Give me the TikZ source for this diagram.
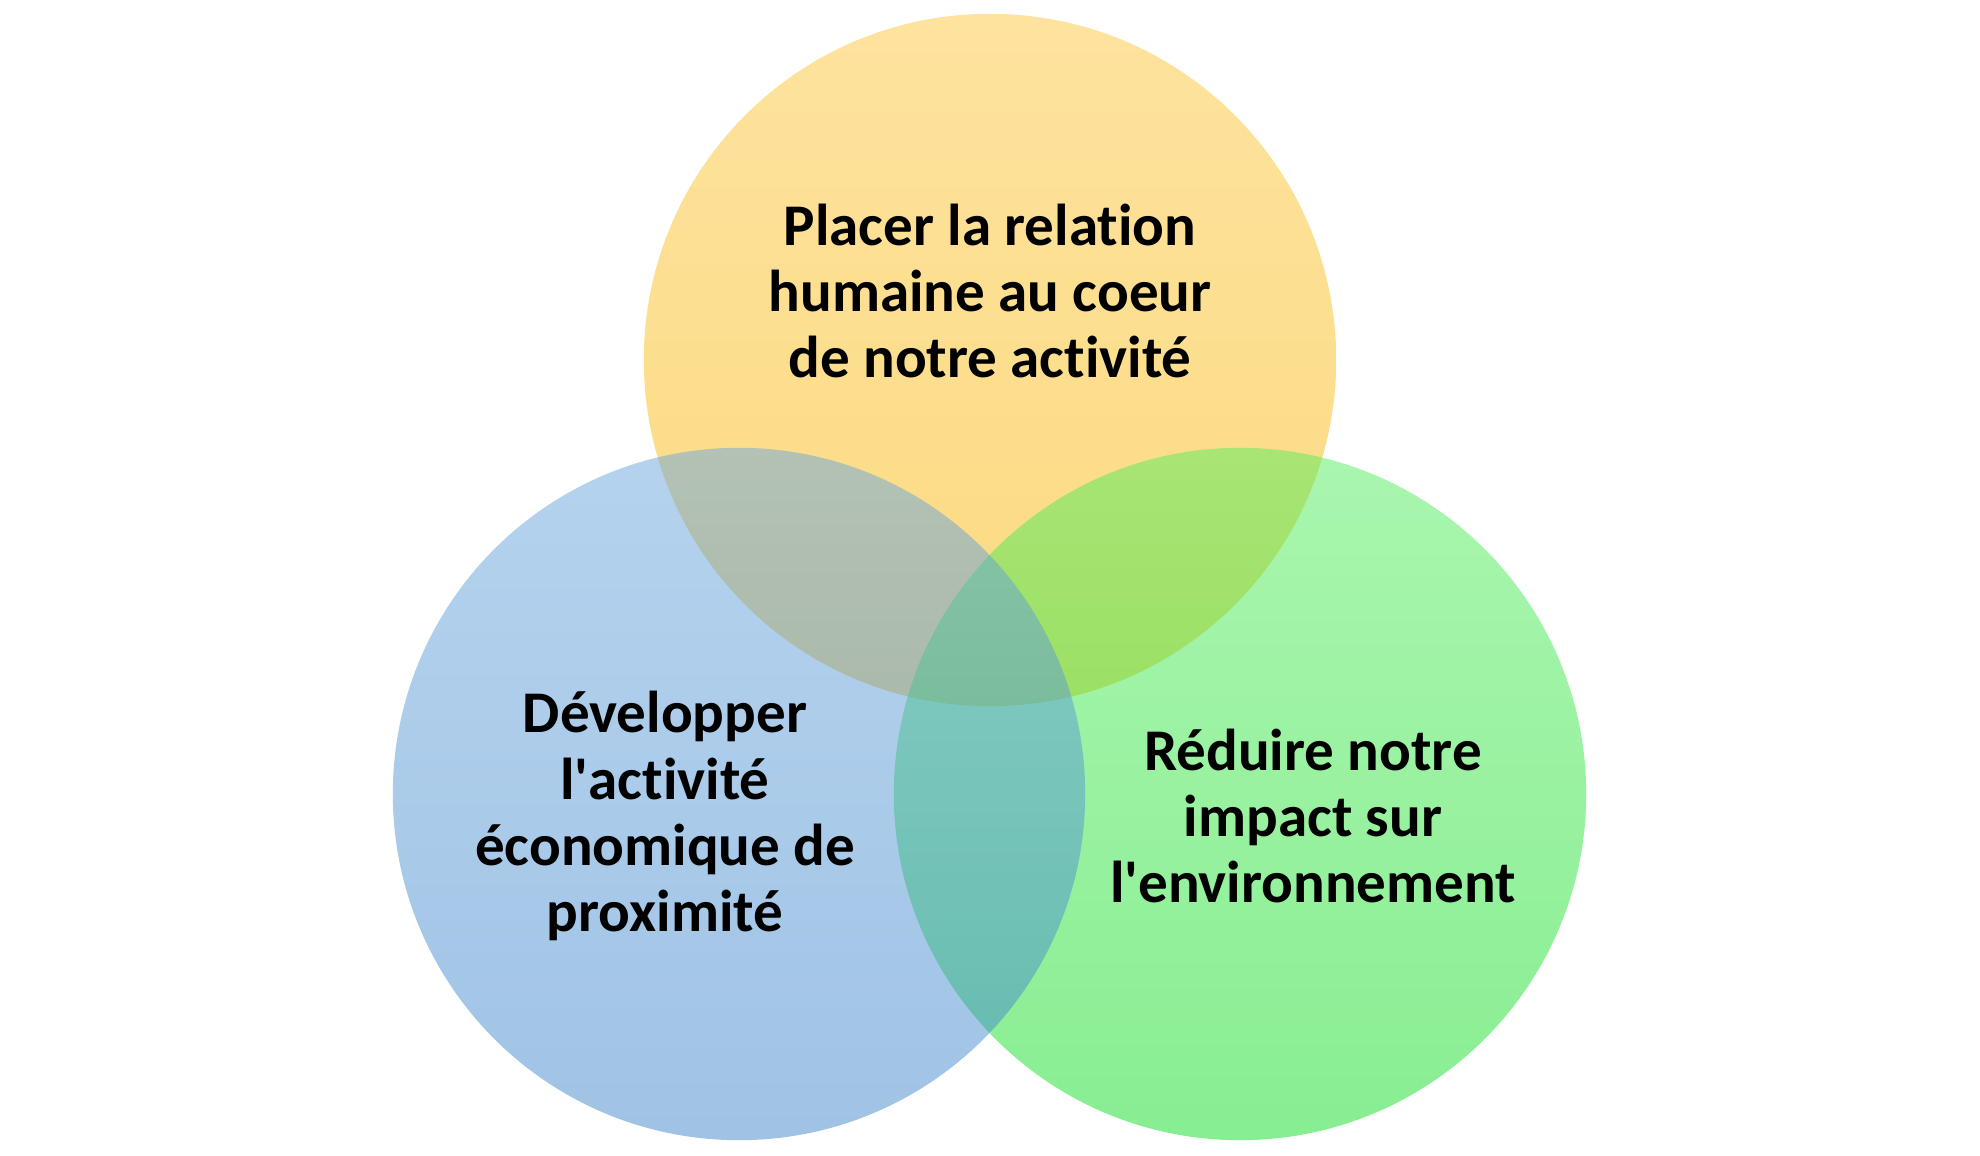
\documentclass[tikz,border=0pt]{standalone}
\usepackage{fontspec}
\setmainfont{Carlito}[Ligatures=NoCommon, RawFeature={-liga;-clig}]
\definecolor{ytop}{RGB}{253,199,62}
\definecolor{ybot}{RGB}{247,181,0}
\definecolor{gtop}{RGB}{85,237,95}
\definecolor{gbot}{RGB}{17,221,37}
\definecolor{btop}{RGB}{107,167,221}
\definecolor{bbot}{RGB}{65,135,203}
\tikzset{
  venn/.style={circle, minimum size=6.92cm, inner sep=0pt, fill opacity=0.5, draw=none},
  lbl/.style={align=center, text=black, font=\bfseries\fontsize{16.8}{18.8}\selectfont, inner sep=0pt}
}
\begin{document}
\begin{tikzpicture}[x=0.01cm,y=-0.01cm]
\useasboundingbox (0,0) rectangle (1980,1155);
\node[venn, top color=ytop, bottom color=ybot] (ctop) at (990,360) {};
\node[venn, top color=gtop, bottom color=gbot] (cright) at (1240,794) {};
\node[venn, top color=btop, bottom color=bbot] (cleft) at (739,794) {};
\node[lbl] (ttop) at (990,291) {Placer la relation\\humaine au coeur\\de notre activité};
\node[lbl] (tleft) at (665,816) {Développer\\l\textquotesingle activité\\économique de\\proximité};
\node[lbl] (tright) at (1313,816) {Réduire notre\\impact sur\\l\textquotesingle environnement};
\end{tikzpicture}
\end{document}
